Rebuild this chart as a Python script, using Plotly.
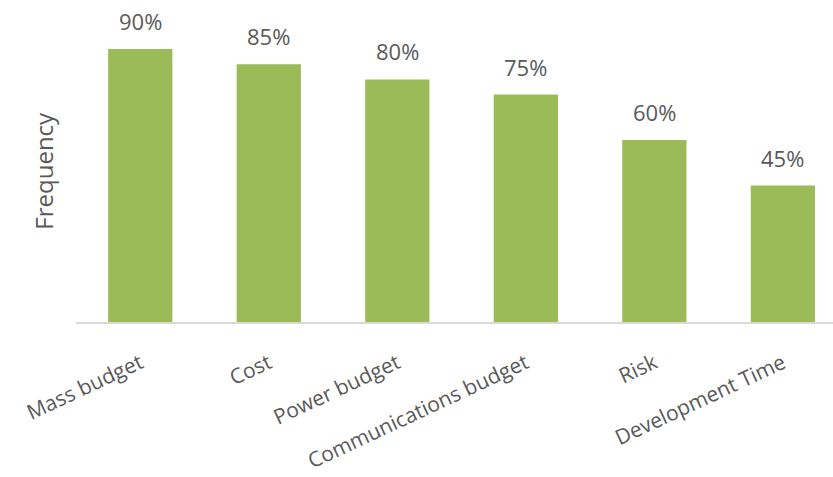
import plotly.graph_objects as go

categories = ["Mass budget", "Cost", "Power budget", "Communications budget", "Risk", "Development Time"]
frequency = [90, 85, 80, 75, 60, 45]

bar_color = "#9BBB59"
text_color = "#595959"
font_family = "Open Sans, Liberation Sans, sans-serif"

fig = go.Figure(
    go.Bar(
        x=categories,
        y=frequency,
        marker=dict(color=bar_color, line=dict(width=0)),
        hoverinfo="skip",
    )
)

# Percentage labels above each bar
for cat, val in zip(categories, frequency):
    fig.add_annotation(
        x=cat, y=val, text=f"{val}%",
        showarrow=False, yanchor="middle", yshift=28,
        font=dict(family=font_family, size=22, color=text_color),
    )

# Vertical axis title
fig.add_annotation(
    xref="paper", yref="paper", x=0, y=0.47,
    xanchor="center", yanchor="middle", xshift=-32,
    text="Frequency", textangle=-90, showarrow=False,
    font=dict(family=font_family, size=24, color=text_color),
)

fig.update_layout(
    width=833, height=477,
    margin=dict(l=76, r=0, t=0, b=155),
    paper_bgcolor="white", plot_bgcolor="white",
    bargap=0.5,
    showlegend=False,
    font=dict(family=font_family, color=text_color),
)

fig.update_xaxes(
    range=[-0.5, 5.39],
    automargin=False,
    showline=True, linecolor="#D9D9D9", linewidth=2,
    showgrid=False, ticks="",
    tickangle=-25,
    tickfont=dict(family=font_family, size=21, color=text_color),
    ticklabelstandoff=19,
)

fig.update_yaxes(
    range=[0, 106.2],
    automargin=False,
    showgrid=False, showticklabels=False, zeroline=False, showline=False,
)

fig.write_html("out.html")
